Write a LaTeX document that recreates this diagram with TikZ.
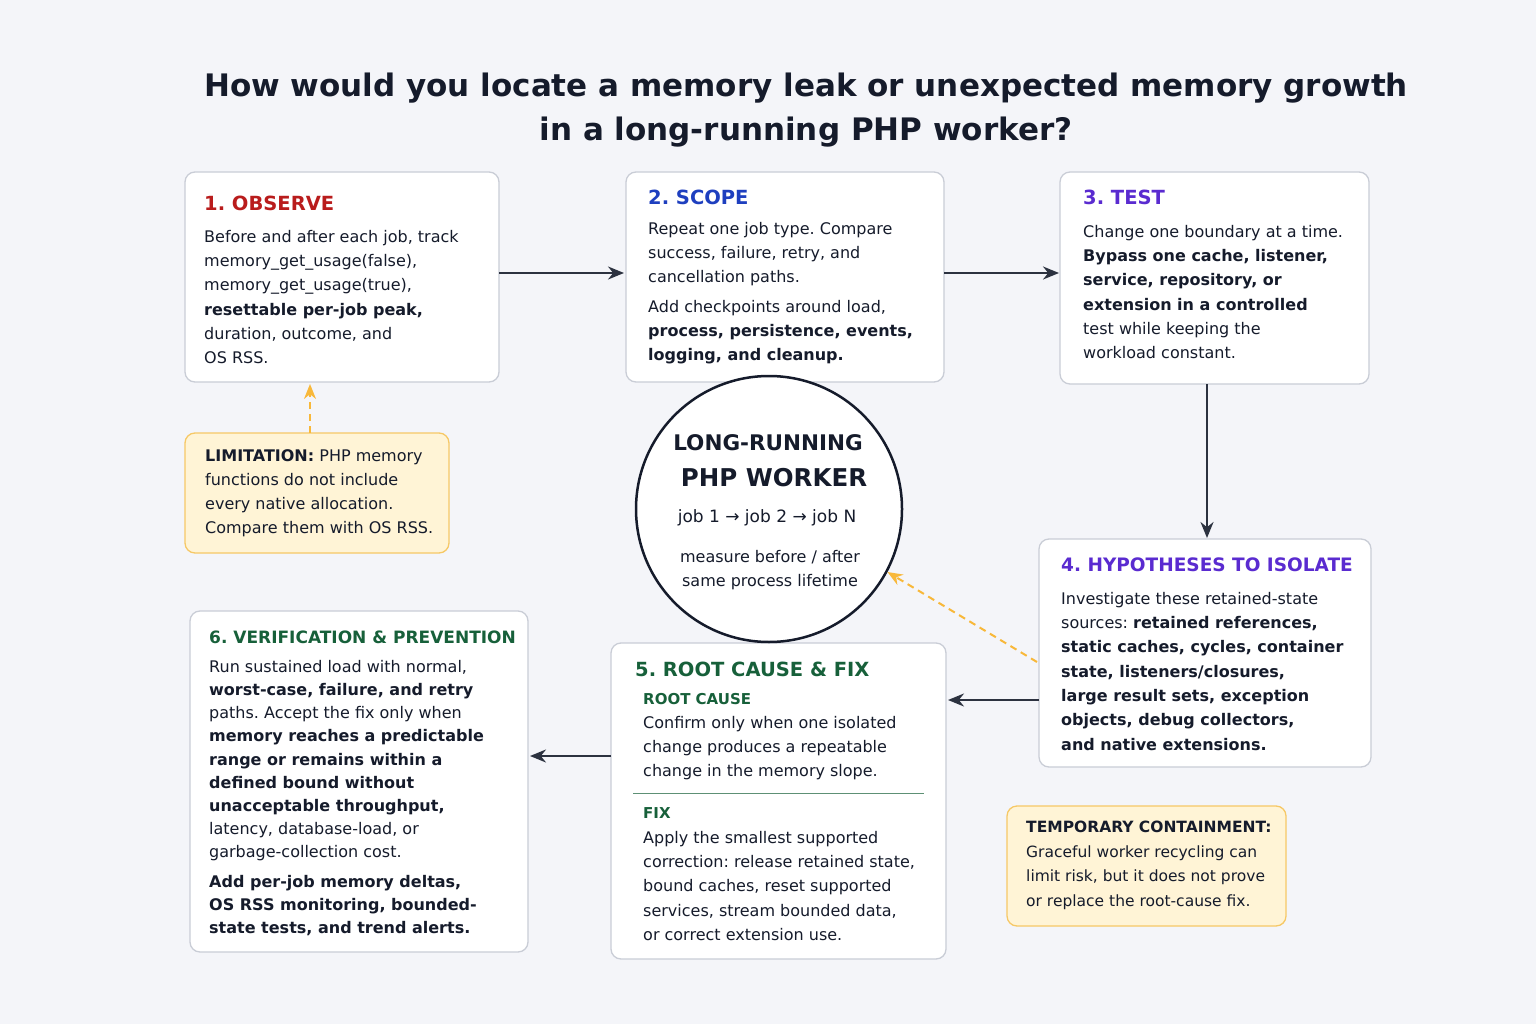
\documentclass[tikz,border=0pt]{standalone}
\usepackage{fontspec}
\setmainfont{DejaVu Sans}
\frenchspacing
\usetikzlibrary{arrows.meta}
\definecolor{ink}{HTML}{151B2B}
\definecolor{bg}{HTML}{F4F5F9}
\definecolor{edge}{HTML}{C9CDD6}
\definecolor{obsred}{HTML}{B91C1C}
\definecolor{scopeblue}{HTML}{1E3FBF}
\definecolor{testpurple}{HTML}{5A2BD0}
\definecolor{fixgreen}{HTML}{17603A}
\definecolor{warnfill}{HTML}{FFF4D6}
\definecolor{warnedge}{HTML}{F6C866}
\definecolor{warnarrow}{HTML}{F8B83A}
\tikzset{
  box/.style={draw=edge, line width=1.3pt, rounded corners=10pt, fill=white},
  warn/.style={draw=warnedge, line width=1.3pt, rounded corners=10pt, fill=warnfill},
  head/.style={anchor=west, inner sep=0pt, font=\fontsize{19.5}{24}\selectfont\bfseries},
  body/.style={anchor=north west, align=left, inner sep=0pt, text=ink, font=\fontsize{16}{24.3}\selectfont},
  arr/.style={draw=ink!90, line width=2.2pt, -{Stealth[length=16pt,width=13pt]}},
  dasharr/.style={draw=warnarrow, line width=2pt, dashed, dash pattern=on 7pt off 5pt, -{Stealth[length=15pt,width=12pt]}}
}
\begin{document}
\begin{tikzpicture}[x=1pt,y=-1pt]
\fill[bg] (0,0) rectangle (1536,1024);
\useasboundingbox (0,0) rectangle (1536,1024);

% title
\node[align=center, text=ink, font=\fontsize{31}{44}\selectfont\bfseries] (title) at (806,110)
  {How would you locate a memory leak or unexpected memory growth\\in a long-running PHP worker?};

% boxes
\draw[box] (185,172) rectangle (499,382) node[pos=0.5] (obs) {};
\draw[box] (626,172) rectangle (944,382) node[pos=0.5] (scope) {};
\draw[box] (1060,172) rectangle (1369,384) node[pos=0.5] (test) {};
\draw[box] (1039,539) rectangle (1371,767) node[pos=0.5] (hyp) {};
\draw[box] (611,643) rectangle (946,959) node[pos=0.5] (fix) {};
\draw[box] (190,611) rectangle (528,952) node[pos=0.5] (ver) {};
\draw[warn] (185,433) rectangle (449,553) node[pos=0.5] (limit) {};
\draw[warn] (1007,806) rectangle (1286,926) node[pos=0.5] (temp) {};
\coordinate (obsS) at (310,384);
\coordinate (limN) at (310,433);
\coordinate (obsE) at (499,273);
\coordinate (scopeW) at (624,273);
\coordinate (scopeE) at (944,273);
\coordinate (testW) at (1059,273);
\coordinate (testS) at (1207,384);
\coordinate (hypN) at (1207,538);
\coordinate (hypW) at (1039,700);
\coordinate (fixE) at (948,700);
\coordinate (fixW) at (611,756);
\coordinate (verE) at (530,756);
\coordinate (hypL) at (1037,662);

% hub
\node[circle, draw=ink, line width=2.5pt, fill=white, minimum size=266pt] (hub) at (769,509) {};
\node[font=\fontsize{21.5}{26}\selectfont\bfseries, text=ink] (hub1) at (768,443) {LONG-RUNNING};
\node[font=\fontsize{24.5}{30}\selectfont\bfseries, text=ink] (hub2) at (774,478) {PHP WORKER};
\node[font=\fontsize{17}{20}\selectfont, text=ink] (hub3) at (767,518) {job 1 → job 2 → job N};
\node[font=\fontsize{16}{24.5}\selectfont, text=ink, align=center] (hub4) at (770,570) {measure before / after\\same process lifetime};

% 1
\node[head, text=obsred] at (204,203) {1. OBSERVE};
\node[body] at (204,230) {Before and after each job, track\\memory\_get\_usage(false),\\memory\_get\_usage(true),\\\textbf{resettable per-job peak,}\\duration, outcome, and\\OS RSS.};
% 2
\node[head, text=scopeblue] at (648,197) {2. SCOPE};
\node[body] at (648,222) {Repeat one job type. Compare\\success, failure, retry, and\\cancellation paths.\\[5pt]Add checkpoints around load,\\\textbf{process, persistence, events,}\\\textbf{logging, and cleanup.}};
% 3
\node[head, text=testpurple] at (1083,197) {3. TEST};
\node[body] at (1083,225) {Change one boundary at a time.\\\textbf{Bypass one cache, listener,}\\\textbf{service, repository, or}\\\textbf{extension in a controlled}\\test while keeping the\\workload constant.};
% 4
\node[head, text=testpurple, font=\fontsize{18.5}{24}\selectfont\bfseries] at (1061,565) {4. HYPOTHESES TO ISOLATE};
\node[body] at (1061,592) {Investigate these retained-state\\sources: \textbf{retained references,}\\\textbf{static caches, cycles, container}\\\textbf{state, listeners/closures,}\\\textbf{large result sets, exception}\\\textbf{objects, debug collectors,}\\\textbf{and native extensions.}};
% 5
\node[head, text=fixgreen] at (635,669) {5. ROOT CAUSE \& FIX};
\node[head, text=fixgreen, font=\fontsize{15}{18}\selectfont\bfseries] at (643,699) {ROOT CAUSE};
\node[body] at (643,716) {Confirm only when one isolated\\change produces a repeatable\\change in the memory slope.};
\draw[fixgreen!70, line width=1pt] (633,793) -- (924,793);
\node[head, text=fixgreen, font=\fontsize{15}{18}\selectfont\bfseries] at (643,813) {FIX};
\node[body] at (643,831) {Apply the smallest supported\\correction: release retained state,\\bound caches, reset supported\\services, stream bounded data,\\or correct extension use.};
% 6
\node[head, text=fixgreen, font=\fontsize{17}{22}\selectfont\bfseries] at (209,637) {6. VERIFICATION \& PREVENTION};
\node[body, font=\fontsize{16}{23.2}\selectfont] at (209,660) {Run sustained load with normal,\\\textbf{worst-case, failure, and retry}\\paths. Accept the fix only when\\\textbf{memory reaches a predictable}\\\textbf{range or remains within a}\\\textbf{defined bound without}\\\textbf{unacceptable throughput,}\\latency, database-load, or\\garbage-collection cost.\\[6pt]\textbf{Add per-job memory deltas,}\\\textbf{OS RSS monitoring, bounded-}\\\textbf{state tests, and trend alerts.}};
% notes
\node[body] at (205,449) {\textbf{LIMITATION:} PHP memory\\functions do not include\\every native allocation.\\Compare them with OS RSS.};
\node[body, font=\fontsize{15.5}{24.5}\selectfont] at (1026,821) {\textbf{TEMPORARY CONTAINMENT:}\\Graceful worker recycling can\\limit risk, but it does not prove\\or replace the root-cause fix.};

% connectors
\draw[arr] (obsE) -- (scopeW);
\draw[arr] (scopeE) -- (testW);
\draw[arr] (testS) -- (hypN);
\draw[arr] (hypW) -- (fixE);
\draw[arr] (fixW) -- (verE);
\draw[dasharr] (limN) -- (obsS);
\draw[dasharr] (hypL) -- (hub.-28);
\end{tikzpicture}
\end{document}
